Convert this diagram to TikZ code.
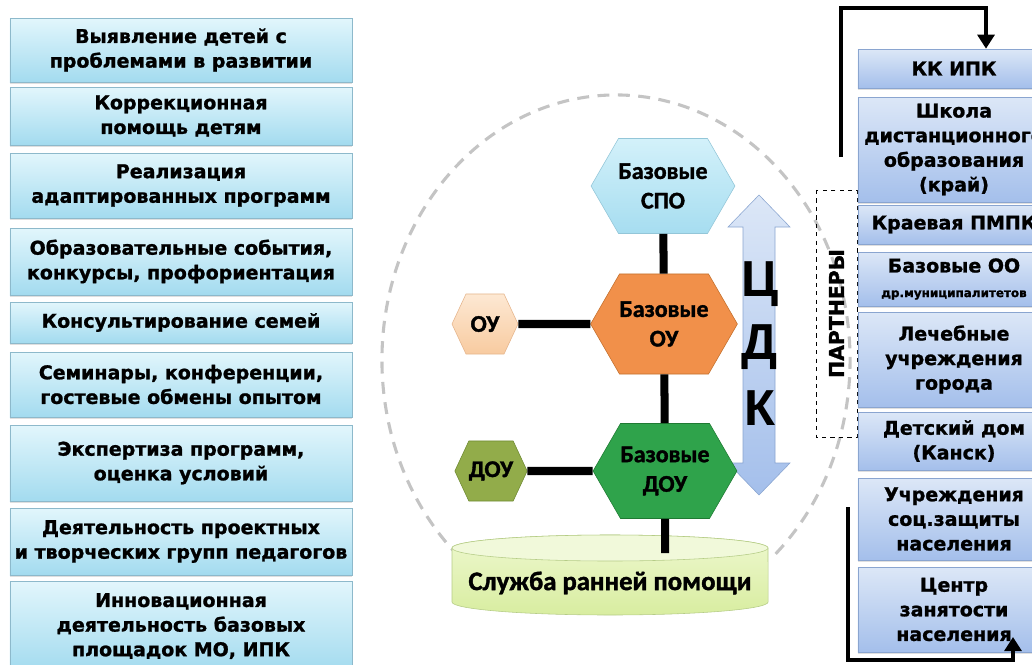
\documentclass[tikz,border=0pt]{standalone}
\usepackage{fontspec}
\setmainfont[BoldFeatures={FakeBold=1.2}]{DejaVu Sans}
\newfontfamily\calfont[BoldFeatures={FakeBold=1.5}]{Carlito}
\newfontfamily\arfont{Liberation Sans}
\usetikzlibrary{shapes.symbols,arrows.meta,shadows}

\definecolor{lboxtop}{HTML}{E2F6FC}
\definecolor{lboxbot}{HTML}{A3DBEF}
\definecolor{lboxline}{HTML}{8DB9CB}
\definecolor{rboxtop}{HTML}{DCE7F7}
\definecolor{rboxbot}{HTML}{A4BFEB}
\definecolor{rboxline}{HTML}{8AA5D0}
\definecolor{ringgray}{HTML}{C4C4C4}
\definecolor{cyltop}{HTML}{EEF8CF}
\definecolor{cylbot}{HTML}{D8EDA0}
\definecolor{cyllid}{HTML}{F1F9DA}
\definecolor{cylline}{HTML}{B5CC86}
\definecolor{spotop}{HTML}{D3F1FA}
\definecolor{spobot}{HTML}{A6DDF0}
\definecolor{spoline}{HTML}{93C6D8}
\definecolor{ouorange}{HTML}{F1904A}
\definecolor{ouline}{HTML}{C36F2C}
\definecolor{outop}{HTML}{FDE8D3}
\definecolor{oubot}{HTML}{F8CBA0}
\definecolor{ouline2}{HTML}{E5B58C}
\definecolor{douggreen}{HTML}{2FA34B}
\definecolor{douline}{HTML}{1F7A33}
\definecolor{doolive}{HTML}{92AC4A}
\definecolor{douline2}{HTML}{6F8A33}

\begin{document}
\begin{tikzpicture}[x=0.025cm,y=-0.025cm,
    lbox/.style={draw=lboxline,top color=lboxtop,bottom color=lboxbot,minimum width=8.55cm,inner sep=0pt,align=center,
      drop shadow={opacity=0.25,shadow xshift=0pt,shadow yshift=-1.2pt},font=\bfseries\fontsize{13.5}{17.5}\selectfont},
    rbox/.style={lbox,draw=rboxline,top color=rboxtop,bottom color=rboxbot,minimum width=4.8cm},
    hexa/.style={signal,signal to=east and west,signal pointer angle=120,inner sep=0pt,align=center,
      font=\calfont\bfseries\fontsize{17}{21}\selectfont},
    link/.style={line width=5.7pt},
    flow/.style={line width=2.8pt,-{Triangle[width=12pt,length=10pt]}},
    ring/.style={ringgray,line width=2.2pt,dash pattern=on 8.5pt off 6pt},
    cdk/.style={font=\arfont\bfseries\fontsize{36}{36}\selectfont}]
  \useasboundingbox (0,0) rectangle (1032,664);

  \draw[ring] ([shift={(-47:5.85cm and 6.625cm)}]616,360) arc[start angle=-47,end angle=226,x radius=5.85cm,y radius=6.625cm];

  % left column
  \foreach \ya/\yb/\lbl [count=\i] in {18/82/{Выявление  детей с\\проблемами в развитии},
      87/145/{Коррекционная\\помощь детям},
      153/218/{Реализация\\адаптированных программ},
      228/295/{Образовательные события,\\конкурсы, профориентация},
      302/343/{Консультирование семей},
      352/417/{Семинары, конференции,\\гостевые обмены опытом},
      425/501/{Экспертиза программ,\\оценка условий},
      508/575/{Деятельность проектных\\и творческих групп педагогов},
      581/671/{Инновационная\\деятельность базовых\\площадок МО, ИПК}}
    \node[lbox,minimum height={(\yb-\ya)*0.025cm}] (L\i) at (181,{(\ya+\yb)/2}) {\lbl};

  % partners
  \node[draw,dashed,thin,rotate=90,minimum width=6.175cm,minimum height=1.025cm,
    font=\bfseries\fontsize{14.5}{16}\selectfont] (part) at (836.5,313.5) {ПАРТНЕРЫ};

  \foreach \ya/\yb/\lbl [count=\i] in {49/88/{КК ИПК},
      97/202/{Школа\\дистанционного\\образования\\(край)},
      205/244/{Краевая ПМПК},
      252/306/{Базовые ОО\\{\fontsize{8.5}{9}\selectfont др.муниципалитетов}},
      312/407/{Лечебные\\учреждения\\города},
      412/470/{Детский дом\\(Канск)},
      478/560/{Учреждения\\соц.защиты\\населения},
      567/652/{Центр\\занятости\\населения}}
    \node[rbox,minimum height={(\yb-\ya)*0.025cm}] (R\i) at (954,{(\ya+\yb)/2}) {\lbl};

  \coordinate (up0) at (841,157);
  \draw[flow] (up0) -- (841,8) -- (986,8) -- (986,0 |- R1.north);
  \coordinate (dn0) at (848,507);
  \coordinate (dn1) at (1013,637);
  \draw[flow] (dn0) -- (848,660) -- (1013,660) -- (dn1);

  % double arrow
  \draw[draw=rboxline,top color=rboxtop,bottom color=rboxbot] (759,195) -- (790,227) -- (775,227) -- (775,463) -- (790,463)
    -- (759,495) -- (728,463) -- (743,463) -- (743,227) -- (728,227) -- cycle;
  \node[cdk] (c1) at (760,284) {Ц};
  \node[cdk] (c2) at (760,347) {Д};
  \node[cdk] (c3) at (760,408) {К};

  % early help
  \draw[draw=cylline,top color=cyltop,bottom color=cylbot] (452,548) -- (452,602)
    arc[start angle=180,end angle=360,x radius=3.95cm,y radius=0.325cm] -- (768,548)
    arc[start angle=0,end angle=180,x radius=3.95cm,y radius=0.325cm] -- cycle;
  \draw[draw=cylline,fill=cyllid] (610,548) ellipse[x radius=3.95cm,y radius=0.325cm];
  \node[font=\calfont\bfseries\fontsize{19}{21}\selectfont] (srp) at (610,583) {Служба ранней помощи};
  \coordinate (srp0) at (665,553);

  % hexagons
  \node[hexa,draw=spoline,top color=spotop,bottom color=spobot,minimum width=3.1cm,minimum height=2.375cm] (spo) at (663,186) {Базовые\\СПО};
  \node[hexa,draw=ouline,fill=ouorange,minimum width=3.125cm,minimum height=2.5cm] (bou) at (664,324) {Базовые\\ОУ};
  \node[hexa,draw=ouline2,top color=outop,bottom color=oubot,signal pointer angle=130,minimum width=1.65cm,minimum height=1.5cm] (ou) at (485,324) {ОУ};
  \node[hexa,draw=douline,fill=douggreen,minimum width=3.15cm,minimum height=2.375cm] (bdou) at (665,471) {Базовые\\ДОУ};
  \node[hexa,draw=douline2,fill=doolive,signal pointer angle=130,minimum width=1.8cm,minimum height=1.5cm] (dou) at (491,471) {ДОУ};

  \draw[link] (spo) -- (bou);
  \draw[link] (bou) -- (bdou);
  \draw[link] (ou) -- (bou);
  \draw[link] (dou) -- (bdou);
  \draw[link] (bdou) -- (srp0);
\end{tikzpicture}
\end{document}
